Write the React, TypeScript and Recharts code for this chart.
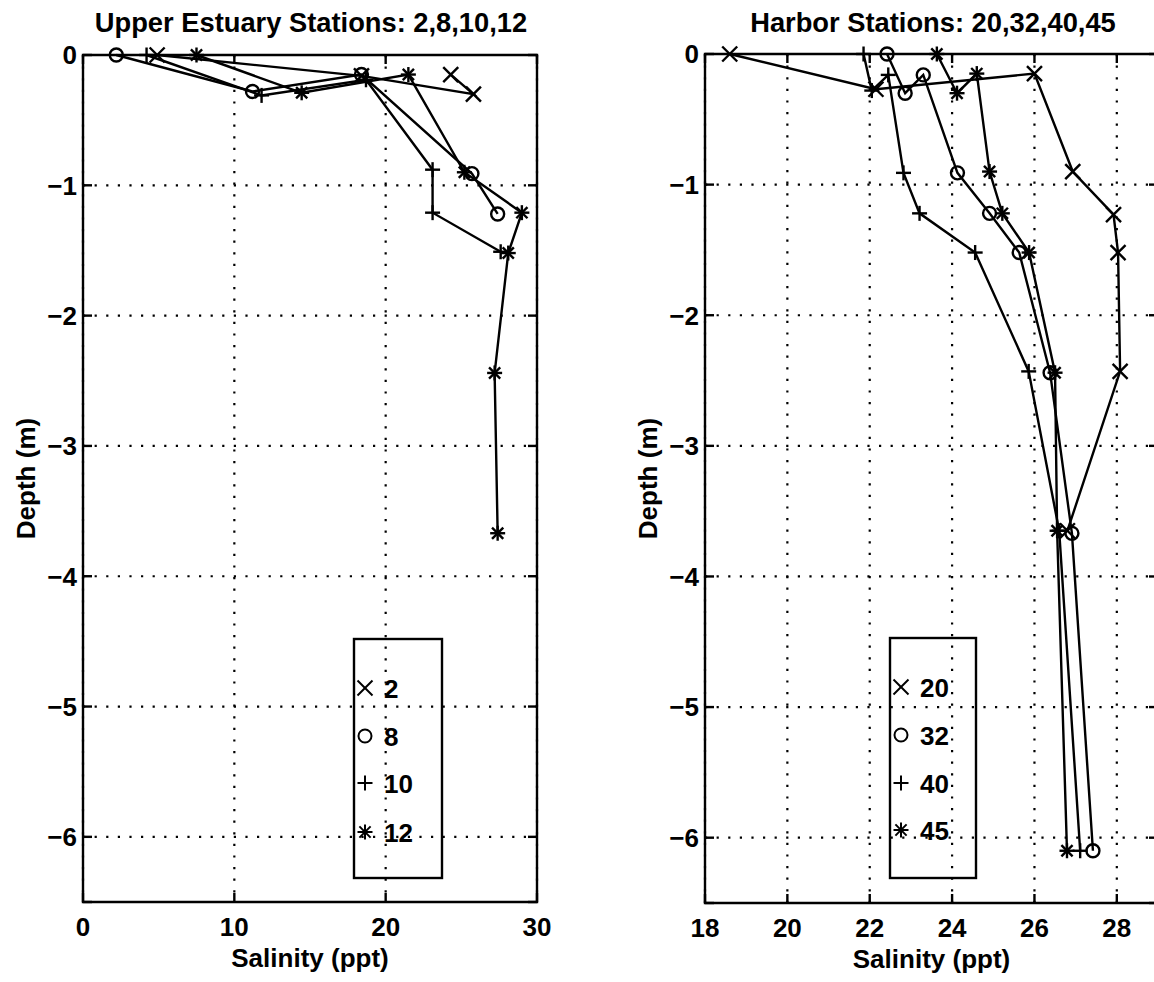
import { ScatterChart, Scatter, XAxis, YAxis, CartesianGrid, ReferenceArea } from 'recharts';

const FONT = '"Liberation Sans", Arial, Helvetica, sans-serif';

// Upper estuary casts: salinity (ppt) and depth (m), in cast order
const upperNames = ['2', '8', '10', '12'];
const st2Sal = [4.9, 18.4, 25.8, 24.3];
const st2Depth = [0, -0.16, -0.3, -0.15];
const st8Sal = [2.2, 11.2, 18.4, 25.7, 27.4];
const st8Depth = [0, -0.28, -0.15, -0.91, -1.22];
const st10Sal = [4.2, 11.8, 18.7, 23.1, 23.1, 27.6];
const st10Depth = [0, -0.31, -0.19, -0.88, -1.21, -1.51];
const st12Sal = [7.5, 14.45, 21.5, 25.2, 29.0, 28.1, 27.2, 27.4];
const st12Depth = [0, -0.29, -0.15, -0.9, -1.21, -1.52, -2.44, -3.67];

// Harbor casts
const harborNames = ['20', '32', '40', '45'];
const st20Sal = [18.6, 22.15, 26.0, 26.93, 27.92, 28.03, 28.08, 26.8];
const st20Depth = [0, -0.27, -0.15, -0.9, -1.23, -1.52, -2.43, -3.65];
const st32Sal = [22.42, 22.86, 23.3, 24.13, 24.91, 25.63, 26.38, 26.91, 27.42];
const st32Depth = [0, -0.3, -0.16, -0.91, -1.22, -1.52, -2.44, -3.67, -6.1];
const st40Sal = [21.85, 22.05, 22.45, 22.82, 23.21, 24.56, 25.86, 26.6, 27.11];
const st40Depth = [0, -0.28, -0.16, -0.91, -1.22, -1.52, -2.43, -3.65, -6.1];
const st45Sal = [23.63, 24.12, 24.6, 24.91, 25.22, 25.87, 26.5, 26.55, 26.79];
const st45Depth = [0, -0.3, -0.15, -0.9, -1.22, -1.52, -2.44, -3.65, -6.1];

const markerKinds = ['x', 'o', '+', '*'];

const upperXTicks = [0, 10, 20, 30];
const harborXTicks = [18, 20, 22, 24, 26, 28];
const depthTicks = [-6, -5, -4, -3, -2, -1, 0];

const zip = (sal: number[], depth: number[]) => sal.map((x, i) => ({ x, y: depth[i] }));

const upperSeries = [
  zip(st2Sal, st2Depth),
  zip(st8Sal, st8Depth),
  zip(st10Sal, st10Depth),
  zip(st12Sal, st12Depth),
];
const harborSeries = [
  zip(st20Sal, st20Depth),
  zip(st32Sal, st32Depth),
  zip(st40Sal, st40Depth),
  zip(st45Sal, st45Depth),
];

const LW = 2.4;

function Marker({ kind, cx, cy, sw = LW }: { kind: string; cx: number; cy: number; sw?: number }) {
  const s = 7.5;
  const d = 5.6;
  const common = { stroke: '#000', strokeWidth: sw, fill: 'none' };
  if (kind === 'o') return <circle cx={cx} cy={cy} r={6.5} {...common} />;
  if (kind === 'x')
    return (
      <g {...common}>
        <line x1={cx - s} y1={cy - s} x2={cx + s} y2={cy + s} />
        <line x1={cx - s} y1={cy + s} x2={cx + s} y2={cy - s} />
      </g>
    );
  if (kind === '+')
    return (
      <g {...common}>
        <line x1={cx - s} y1={cy} x2={cx + s} y2={cy} />
        <line x1={cx} y1={cy - s} x2={cx} y2={cy + s} />
      </g>
    );
  return (
    <g {...common}>
      <line x1={cx - s} y1={cy} x2={cx + s} y2={cy} />
      <line x1={cx} y1={cy - s} x2={cx} y2={cy + s} />
      <line x1={cx - d} y1={cy - d} x2={cx + d} y2={cy + d} />
      <line x1={cx - d} y1={cy + d} x2={cx + d} y2={cy - d} />
    </g>
  );
}

const fmt = (v: number) => (v < 0 ? `\u2212${Math.abs(v)}` : `${v}`);

const textStyle = { fontFamily: FONT, fontSize: 26, fontWeight: 700, fill: '#000' };

const XTick = (p: any) => (
  <g>
    <text x={p.x} y={p.y + 34} textAnchor="middle" {...textStyle}>
      {fmt(p.payload.value)}
    </text>
  </g>
);

const YTick = (p: any) => (
  <g>
    <text x={p.x - 6} y={p.y} dy="0.36em" textAnchor="end" {...textStyle}>
      {fmt(p.payload.value)}
    </text>
  </g>
);

const dotted = { stroke: '#000', strokeWidth: 2.2, strokeDasharray: '2.2 9.4' };
const solid = { stroke: '#000', strokeWidth: LW };

// grid lines plus the inward tick marks at both ends
const hLine = (p: any) => (
  <g key={p.key ?? `h-${p.index}`}>
    <line x1={p.x1} y1={p.y1} x2={p.x2} y2={p.y2} {...dotted} />
    <line x1={p.x1} y1={p.y1} x2={p.x1 + 9} y2={p.y1} {...solid} />
    <line x1={p.x2 - 9} y1={p.y1} x2={p.x2} y2={p.y1} {...solid} />
  </g>
);
const vLine = (p: any) => (
  <g key={p.key ?? `v-${p.index}`}>
    <line x1={p.x1} y1={p.y1} x2={p.x2} y2={p.y2} {...dotted} />
    <line x1={p.x1} y1={p.y2} x2={p.x1} y2={p.y2 - 9} {...solid} />
    <line x1={p.x1} y1={p.y1} x2={p.x1} y2={p.y1 + 9} {...solid} />
  </g>
);

const xLabel = (p: any) => {
  const vb = p.viewBox;
  return (
    <text x={vb.x + vb.width / 2} y={vb.y + 65} textAnchor="middle" {...textStyle}>
      Salinity (ppt)
    </text>
  );
};

const yLabelAt = (offset: number) => (p: any) => {
  const vb = p.viewBox;
  const tx = vb.x + offset;
  const ty = vb.y + vb.height / 2;
  return (
    <text x={tx} y={ty} textAnchor="middle" transform={`rotate(-90 ${tx} ${ty})`} {...textStyle}>
      Depth (m)
    </text>
  );
};

function Panel({
  series,
  xDomain,
  xTicks,
  width,
  yAxisWidth,
  marginRight,
  marginTop,
  xAxisHeight,
  labelOffset,
}: {
  series: { x: number; y: number }[][];
  xDomain: [number, number];
  xTicks: number[];
  width: number;
  yAxisWidth: number;
  marginRight: number;
  marginTop: number;
  xAxisHeight: number;
  labelOffset: number;
}) {
  return (
    <ScatterChart width={width} height={982} margin={{ top: marginTop, right: marginRight, bottom: 0, left: 0 }}>
      <CartesianGrid horizontal={hLine} vertical={vLine} />
      <XAxis
        type="number"
        dataKey="x"
        domain={xDomain}
        ticks={xTicks}
        interval={0}
        height={xAxisHeight}
        axisLine={false}
        tickLine={false}
        tickSize={0}
        tickMargin={0}
        tick={XTick}
        label={xLabel}
      />
      <YAxis
        type="number"
        dataKey="y"
        domain={[-6.5, 0]}
        ticks={depthTicks}
        interval={0}
        width={yAxisWidth}
        axisLine={false}
        tickLine={false}
        tickSize={0}
        tickMargin={0}
        tick={YTick}
        label={yLabelAt(labelOffset)}
      />
      <ReferenceArea
        x1={xDomain[0]}
        x2={xDomain[1]}
        y1={-6.5}
        y2={0}
        fill="none"
        fillOpacity={0}
        stroke="#000"
        strokeWidth={LW}
        strokeOpacity={1}
      />
      {series.map((data, i) => (
        <Scatter
          key={i}
          data={data}
          fill="#000"
          stroke="#000"
          strokeWidth={LW}
          line={{ stroke: '#000', strokeWidth: LW }}
          lineJointType="linear"
          shape={(p: any) => <Marker kind={markerKinds[i]} cx={p.cx} cy={p.cy} />}
          isAnimationActive={false}
        />
      ))}
    </ScatterChart>
  );
}

function LegendBox({
  names,
  x,
  y,
  w,
  h,
  markerX,
  textX,
  rows,
}: {
  names: string[];
  x: number;
  y: number;
  w: number;
  h: number;
  markerX: number;
  textX: number;
  rows: number[];
}) {
  return (
    <g>
      <rect x={x} y={y} width={w} height={h} fill="none" stroke="#000" strokeWidth={LW} />
      {names.map((n, i) => (
        <g key={n}>
          <Marker kind={markerKinds[i]} cx={markerX} cy={rows[i]} sw={2} />
          <text x={textX} y={rows[i] + 9.5} {...textStyle}>
            {n}
          </text>
        </g>
      ))}
    </g>
  );
}

export default function App() {
  return (
    <div
      style={{
        position: 'absolute',
        left: 0,
        top: 0,
        width: 1154,
        height: 982,
        overflow: 'hidden',
        background: '#fff',
      }}
    >
      <div style={{ position: 'absolute', left: 0, top: 0 }}>
        <Panel
          series={upperSeries}
          xDomain={[0, 30]}
          xTicks={upperXTicks}
          width={560}
          yAxisWidth={83}
          marginRight={23}
          marginTop={55}
          xAxisHeight={80}
          labelOffset={35}
        />
      </div>
      <div style={{ position: 'absolute', left: 615, top: 0 }}>
        <Panel
          series={harborSeries}
          xDomain={[18, 29]}
          xTicks={harborXTicks}
          width={585}
          yAxisWidth={90}
          marginRight={42}
          marginTop={54}
          xAxisHeight={79}
          labelOffset={42}
        />
      </div>
      <svg
        width={1154}
        height={982}
        style={{ position: 'absolute', left: 0, top: 0, pointerEvents: 'none' }}
      >
        <text x={311} y={32} textAnchor="middle" {...textStyle} fontSize={27.3}>
          Upper Estuary Stations: 2,8,10,12
        </text>
        <text x={933} y={32} textAnchor="middle" {...textStyle} fontSize={27.3}>
          Harbor Stations: 20,32,40,45
        </text>
        <LegendBox
          names={upperNames}
          x={354}
          y={639}
          w={88}
          h={239}
          markerX={365}
          textX={384}
          rows={[688, 736, 783, 832]}
        />
        <LegendBox
          names={harborNames}
          x={890}
          y={638}
          w={86}
          h={240}
          markerX={901}
          textX={920}
          rows={[687, 735, 783, 830]}
        />
      </svg>
    </div>
  );
}
